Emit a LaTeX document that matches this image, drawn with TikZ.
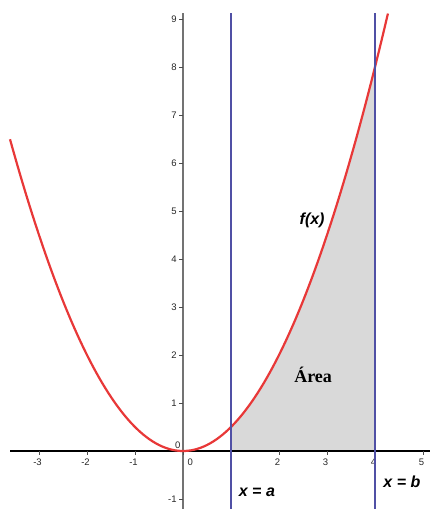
\documentclass[tikz,border=0pt]{standalone}
\usepackage{fontspec}
\setmainfont{Liberation Sans}
\newfontfamily\timesf{Liberation Serif}
\begin{document}
\begin{tikzpicture}[x=48pt,y=48pt,
  ticklab/.style={font=\fontsize{9.5}{10}\selectfont, text=black!85, inner sep=0pt},
  biglab/.style={font=\fontsize{16}{17}\selectfont\bfseries\itshape, inner sep=0pt},
  vline/.style={draw={rgb,255:red,80;green,80;blue,165}, line width=2.8pt},
  curve/.style={draw={rgb,255:red,232;green,56;blue,56}, line width=2.2pt}]
\useasboundingbox (-3.8125,-1.2083) rectangle (5.1458,9.396);
% shaded area
\fill[black!15] (1,0) -- plot[domain=1:4,samples=60] (\x,{\x*\x/2}) -- (4,0) -- cycle;
% axes
\coordinate (xl) at (-3.604,0);
\coordinate (xr) at (5.1458,0);
\coordinate (yt) at (0,9.125);
\coordinate (yb) at (0,-1.2083);
\draw[line width=2.2pt, black] (xl) -- (xr);
\draw[line width=1.5pt, black!55] (yb) -- (yt);
\foreach \i in {-3,-2,-1,0,1,2,3,4,5} \draw[black!70, line width=0.8pt] (\i,0) -- (\i,-0.08);
\foreach \i in {-1,1,2,3,4,5,6,7,8,9} \draw[black!70, line width=0.8pt] (0,\i) -- (-0.08,\i);
\foreach \i/\l in {-3/-3,-2/-2,-1/-1,2/2,3/3,4/4,5/5}
  \node[ticklab] (xt\i) at (\i-0.03,-0.23) {\l};
\node[ticklab] (xt0) at (0.15,-0.24) {0};
\foreach \i/\l in {-1/-1,1/1,2/2,3/3,4/4,5/5,6/6,7/7,8/8,9/9}
  \node[ticklab, anchor=east] (yt\i) at (-0.13,\i) {\l};
\node[ticklab] (y0) at (-0.11,0.13) {0};
% curve
\draw[curve] plot[domain=-3.604:4.27,samples=120] (\x,{\x*\x/2});
% vertical lines
\coordinate (at) at (1,9.125);
\coordinate (ab) at (1,-1.2083);
\coordinate (bt) at (4,9.125);
\coordinate (bb) at (4,-1.2083);
\draw[vline] (ab) -- (at);
\draw[vline] (bb) -- (bt);
% labels
\node[biglab] (fx) at (2.69,4.81) {f(x)};
\node[font=\timesf\fontsize{18}{19}\selectfont\bfseries, inner sep=0pt] (area) at (2.71,1.58) {Área};
\node[biglab] (xa) at (1.54,-0.85) {x = a};
\node[biglab] (xb) at (4.56,-0.65) {x = b};
\end{tikzpicture}
\end{document}
